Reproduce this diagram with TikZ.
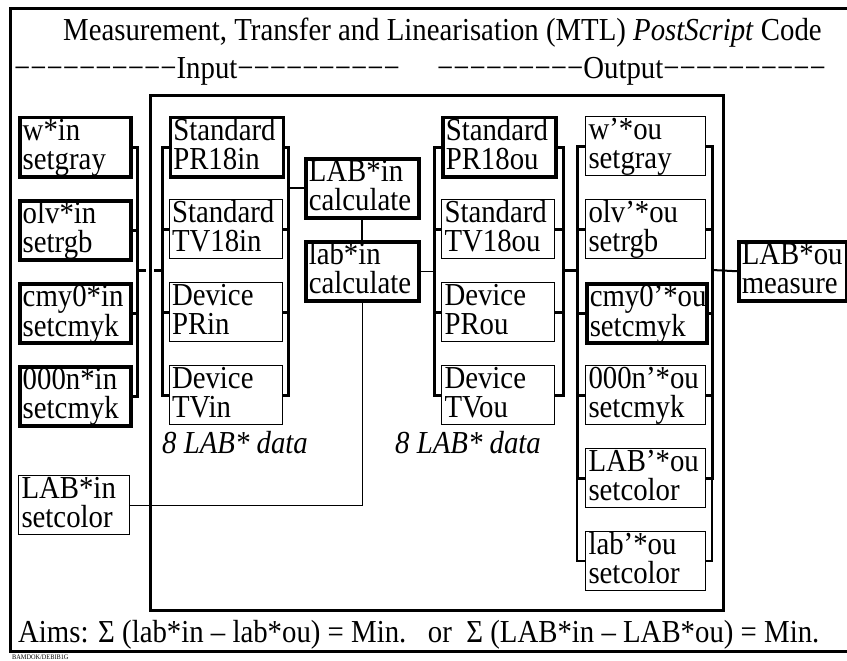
\documentclass[tikz,border=0pt]{standalone}
\usepackage{fontspec}
\setmainfont{Liberation Serif}[FakeStretch=0.9]
\newcommand{\bigfont}{\fontsize{32}{28.5}\selectfont}
\begin{document}
\begin{tikzpicture}[x=1pt,y=-1pt,
  box/.style={draw, anchor=north west, align=left, inner xsep=3pt, inner ysep=1pt,
    text height=22pt, text depth=35pt, minimum height=59pt, font=\bigfont},
  thick box/.style={box, line width=3.5pt},
  thin box/.style={box, line width=1pt},
  colA/.style={minimum width=111pt, text width=105pt},
  colB/.style={minimum width=113pt, text width=107pt},
  colE/.style={minimum width=120pt, text width=114pt, inner xsep=2.5pt},
  colF/.style={minimum width=108pt, text width=102pt},
  brk/.style={line width=3pt},
  txt/.style={anchor=base west, inner sep=0pt, font=\bigfont}]
\useasboundingbox (0,0) rectangle (847,661);
% frames
\draw[line width=3pt] (10,9) rectangle (850,651);
\draw[line width=3pt] (150,96) rectangle (723,610);
% texts
\node[txt] (title) at (63,41) {Measurement, Transfer and Linearisation (MTL) \textit{PostScript} Code};
\node[txt] (inlab) at (14,79) {−−−−−−−−−−Input−−−−−−−−−−};
\node[txt] (outlab) at (437,79) {−−−−−−−−−Output−−−−−−−−−−};
\node[txt, font=\bigfont\itshape] (data1) at (162,453) {8 LAB* data};
\node[txt, font=\bigfont\itshape] (data2) at (395,453) {8 LAB* data};
\node[txt] (aims) at (18,642) {Aims: Σ (lab*in – lab*ou) = Min.\ \ \ or\ \ Σ (LAB*in – LAB*ou) = Min.};
\node[anchor=base west, inner sep=0pt, font=\fontsize{7}{7}\selectfont] (foot) at (12,659.5) {BAMDOK/DEBIB1G};
% input colour boxes
\node[thick box, colA] (win) at (18,116) {w*in\\setgray};
\node[thick box, colA] (olvin) at (18,199) {olv*in\\setrgb};
\node[thick box, colA] (cmyin) at (18,282) {cmy0*in\\setcmyk};
\node[thick box, colA] (nin) at (18,365) {000n*in\\setcmyk};
\node[thin box, colA] (Lset) at (18,475) {LAB*in\\setcolor};
% input standards
\node[thick box, colB] (prin) at (168.5,116) {Standard\\PR18in};
\node[thin box, colB] (tvin) at (168.5,199) {Standard\\TV18in};
\node[thin box, colB] (dprin) at (168.5,282) {Device\\PRin};
\node[thin box, colB] (dtvin) at (168.5,365) {Device\\TVin};
% calculations
\node[thick box, colB] (Lcalc) at (304,157) {LAB*in\\calculate};
\node[thick box, colB] (lcalc) at (304,240) {lab*in\\calculate};
% output standards
\node[thick box, colB] (prou) at (441,116) {Standard\\PR18ou};
\node[thin box, colB] (tvou) at (441,199) {Standard\\TV18ou};
\node[thin box, colB] (dprou) at (441,282) {Device\\PRou};
\node[thin box, colB] (dtvou) at (441,365) {Device\\TVou};
% output colour boxes
\node[thin box, colE] (wou) at (585,116) {w'*ou\\setgray};
\node[thin box, colE] (olvou) at (585,199) {olv'*ou\\setrgb};
\node[thick box, colE] (cmyou) at (585,282) {cmy0'*ou\\setcmyk};
\node[thin box, colE] (nou) at (585,365) {000n'*ou\\setcmyk};
\node[thin box, colE] (Lou) at (585,448) {LAB'*ou\\setcolor};
\node[thin box, colE] (lou) at (585,531) {lab'*ou\\setcolor};
% measurement
\node[thick box, colF] (Lmeas) at (737,240) {LAB*ou\\measure};
% bracket joints
\coordinate (b1) at (137,270);
\coordinate (g1) at (146,270);
\coordinate (g2) at (154,270);
\coordinate (b2) at (162,270);
\coordinate (b3) at (288,270);
\coordinate (b4) at (434,270);
\coordinate (b5) at (563,270);
\coordinate (b6) at (577,270);
\coordinate (b7) at (712,270);
% bracket 1
\draw[brk] (win.east) -| (b1) |- (nin.east);
\draw[brk] (olvin.east) -- (olvin.east -| b1);
\draw[brk] (cmyin.east) -- (cmyin.east -| b1);
\draw[brk] (b1) -- (g1);
\draw[brk] (g2) -- (b2);
% bracket 2
\draw[brk] (prin.west) -| (b2) |- (dtvin.west);
\draw[brk] (tvin.west) -- (tvin.west -| b2);
\draw[brk] (dprin.west) -- (dprin.west -| b2);
% bracket 3
\draw[brk] (prin.east) -| (b3) |- (dtvin.east);
\draw[brk] (tvin.east) -- (tvin.east -| b3);
\draw[brk] (dprin.east) -- (dprin.east -| b3);
\draw[line width=2pt] (Lcalc.west) -- (Lcalc.west -| b3);
\draw[line width=2pt] (Lcalc.south) -- (lcalc.north);
\draw[line width=1pt] (lcalc.south) |- (Lset.east);
\draw[line width=1.2pt] (lcalc.east) -- (lcalc.east -| b4);
% bracket 4
\draw[brk] (prou.west) -| (b4) |- (dtvou.west);
\draw[brk] (tvou.west) -- (tvou.west -| b4);
\draw[brk] (dprou.west) -- (dprou.west -| b4);
% bracket 5
\draw[brk] (prou.east) -| (b5) |- (dtvou.east);
\draw[brk] (tvou.east) -- (tvou.east -| b5);
\draw[brk] (dprou.east) -- (dprou.east -| b5);
\draw[brk] (b5) -- (b6);
% bracket 6
\draw[brk] (wou.west) -| (b6) |- (Lou.west);
\draw[line width=1.2pt] (Lou.west -| b6) |- (lou.west);
\draw[brk] (olvou.west) -- (olvou.west -| b6);
\draw[brk] (cmyou.west) -- (cmyou.west -| b6);
\draw[brk] (nou.west) -- (nou.west -| b6);
% bracket 7
\draw[brk] (wou.east) -| (b7) |- (Lou.east);
\draw[line width=1.2pt] (Lou.east -| b7) |- (lou.east);
\draw[brk] (olvou.east) -- (olvou.east -| b7);
\draw[brk] (cmyou.east) -- (cmyou.east -| b7);
\draw[brk] (nou.east) -- (nou.east -| b7);
\draw[line width=2pt] (b7) -- (Lmeas.west);
\end{tikzpicture}
\end{document}
